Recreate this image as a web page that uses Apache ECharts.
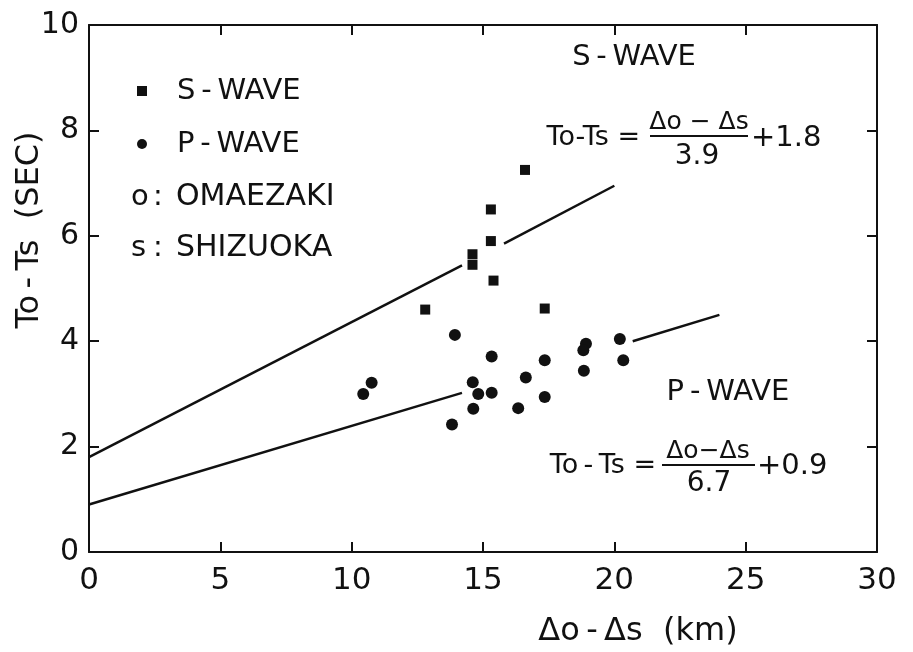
<!DOCTYPE html>
<html>
<head>
<meta charset="utf-8">
<script src="https://cdn.jsdelivr.net/npm/echarts@6/dist/echarts.min.js"></script>
<style>
html,body{margin:0;padding:0;background:#fff;}
#chart{width:913px;height:652px;}
</style>
</head>
<body>
<div id="chart"></div>
<script>
// ---- data ----
const xTicks = [0, 5, 10, 15, 20, 25, 30];
const yTicks = [0, 2, 4, 6, 8, 10];

const sWaveX = [16.6, 15.3, 15.3, 14.6, 14.6, 15.4, 12.8, 17.35];
const sWaveY = [7.25, 6.5, 5.9, 5.65, 5.45, 5.15, 4.6, 4.62];

const pWaveX = [13.93, 15.33, 17.35, 18.92, 18.82, 20.21, 20.34, 18.84, 16.63, 10.76, 10.44, 14.61, 14.82, 15.33, 17.35, 14.63, 16.34, 13.82];
const pWaveY = [4.12, 3.71, 3.64, 3.95, 3.83, 4.04, 3.64, 3.44, 3.31, 3.21, 3.00, 3.22, 3.00, 3.02, 2.94, 2.72, 2.73, 2.42];

// fitted lines (drawn in two pieces each, as in the figure)
const sFitSeg1X = [0, 14.2],  sFitSeg1Y = [1.8, 5.44];
const sFitSeg2X = [15.8, 20.0], sFitSeg2Y = [5.85, 6.95];
const pFitSeg1X = [0, 14.2],  pFitSeg1Y = [0.9, 3.02];
const pFitSeg2X = [20.7, 24.0], pFitSeg2Y = [4.0, 4.5];

const zip = (xs, ys) => xs.map((x, i) => [x, ys[i]]);

const FONT = 'DejaVu Sans';
const INK = '#111';
const TS = '\u2009';
const f = (px) => px + 'px "' + FONT + '"';

const chart = echarts.init(document.getElementById('chart'), null, {renderer: 'canvas'});

const axisLineStyle = {color: INK, width: 2};
const lineSeries = (xs, ys) => ({
  type: 'line', data: zip(xs, ys), symbol: 'none', silent: true,
  lineStyle: {color: INK, width: 2.5}, xAxisIndex: 0, yAxisIndex: 0, z: 3
});

const option = {
  backgroundColor: '#fff',
  animation: false,
  grid: {left: 89, right: 36, top: 25, bottom: 100},
  legend: {
    orient: 'vertical', left: 132, top: 71,
    itemWidth: 10, itemHeight: 10, itemGap: 23,
    data: [{name: 'S-WAVE', icon: 'rect'}, {name: 'P-WAVE', icon: 'circle'}],
    formatter: (n) => n.replace('-', TS + '-' + TS),
    textStyle: {fontFamily: FONT, fontSize: 29, color: INK, lineHeight: 30, padding: [0, 0, 0, 25]}
  },
  xAxis: [{
    type: 'value', min: xTicks[0], max: xTicks[xTicks.length - 1], interval: 5,
    axisLine: {show: true, onZero: false, lineStyle: axisLineStyle},
    axisTick: {show: true, inside: true, length: 10, lineStyle: {color: INK, width: 2}},
    axisLabel: {fontFamily: FONT, fontSize: 31, color: INK, margin: 13},
    splitLine: {show: false}
  }, {
    type: 'value', position: 'top', min: xTicks[0], max: xTicks[xTicks.length - 1], interval: 5,
    axisLine: {show: true, onZero: false, lineStyle: axisLineStyle},
    axisTick: {show: true, inside: true, length: 10, lineStyle: {color: INK, width: 2}},
    axisLabel: {show: false}, splitLine: {show: false}
  }],
  yAxis: [{
    type: 'value', min: yTicks[0], max: yTicks[yTicks.length - 1], interval: 2,
    axisLine: {show: true, onZero: false, lineStyle: axisLineStyle},
    axisTick: {show: true, inside: true, length: 10, lineStyle: {color: INK, width: 2}},
    axisLabel: {fontFamily: FONT, fontSize: 30, color: INK, margin: 10},
    splitLine: {show: false}
  }, {
    type: 'value', position: 'right', min: yTicks[0], max: yTicks[yTicks.length - 1], interval: 2,
    axisLine: {show: true, onZero: false, lineStyle: axisLineStyle},
    axisTick: {show: true, inside: true, length: 10, lineStyle: {color: INK, width: 2}},
    axisLabel: {show: false}, splitLine: {show: false}
  }],
  series: [
    {name: 'S-WAVE', type: 'scatter', data: zip(sWaveX, sWaveY), symbol: 'rect', symbolSize: 10,
      itemStyle: {color: INK, opacity: 1}, z: 4},
    {name: 'P-WAVE', type: 'scatter', data: zip(pWaveX, pWaveY), symbol: 'circle', symbolSize: 12,
      itemStyle: {color: INK, opacity: 1}, z: 4},
    lineSeries(sFitSeg1X, sFitSeg1Y),
    lineSeries(sFitSeg2X, sFitSeg2Y),
    lineSeries(pFitSeg1X, pFitSeg1Y),
    lineSeries(pFitSeg2X, pFitSeg2Y)
  ],
  graphic: [
    // remaining legend rows
    {type: 'text', x: 131, y: 197, style: {text: 'o', font: f(29), fill: INK, verticalAlign: 'middle'}},
    {type: 'text', x: 153, y: 197, style: {text: ':', font: f(29), fill: INK, verticalAlign: 'middle'}},
    {type: 'text', x: 176, y: 197, style: {text: 'OMAEZAKI', font: f(30), fill: INK, verticalAlign: 'middle'}},
    {type: 'text', x: 131, y: 248, style: {text: 's', font: f(29), fill: INK, verticalAlign: 'middle'}},
    {type: 'text', x: 153, y: 248, style: {text: ':', font: f(29), fill: INK, verticalAlign: 'middle'}},
    {type: 'text', x: 176, y: 248, style: {text: 'SHIZUOKA', font: f(30), fill: INK, verticalAlign: 'middle'}},
    // axis titles
    {type: 'text', x: 30, y: 230, rotation: Math.PI / 2,
      style: {text: 'To' + TS + '-' + TS + 'Ts  (SEC)', font: f(32), fill: INK, align: 'center', verticalAlign: 'middle'}},
    {type: 'text', x: 638, y: 632,
      style: {text: 'Δo' + TS + '-' + TS + 'Δs  (km)', font: f(32), fill: INK, align: 'center', verticalAlign: 'middle'}},
    // S-wave annotation
    {type: 'text', x: 634, y: 57,
      style: {text: 'S' + TS + '-' + TS + 'WAVE', font: f(29), fill: INK, align: 'center', verticalAlign: 'middle'}},
    {type: 'text', x: 640, y: 138,
      style: {text: 'To-Ts =', font: f(27), fill: INK, align: 'right', verticalAlign: 'middle'}},
    {type: 'text', x: 699, y: 122,
      style: {text: 'Δo − Δs', font: f(25), fill: INK, align: 'center', verticalAlign: 'middle'}},
    {type: 'line', shape: {x1: 650, y1: 136, x2: 748, y2: 136}, style: {stroke: INK, lineWidth: 2}},
    {type: 'text', x: 697, y: 157,
      style: {text: '3.9', font: f(28), fill: INK, align: 'center', verticalAlign: 'middle'}},
    {type: 'text', x: 751, y: 138,
      style: {text: '+1.8', font: f(29), fill: INK, align: 'left', verticalAlign: 'middle'}},
    // P-wave annotation
    {type: 'text', x: 728, y: 392,
      style: {text: 'P' + TS + '-' + TS + 'WAVE', font: f(29), fill: INK, align: 'center', verticalAlign: 'middle'}},
    {type: 'text', x: 656, y: 466,
      style: {text: 'To' + TS + '-' + TS + 'Ts =', font: f(27), fill: INK, align: 'right', verticalAlign: 'middle'}},
    {type: 'text', x: 708, y: 451,
      style: {text: 'Δo−Δs', font: f(25), fill: INK, align: 'center', verticalAlign: 'middle'}},
    {type: 'line', shape: {x1: 662, y1: 465, x2: 755, y2: 465}, style: {stroke: INK, lineWidth: 2}},
    {type: 'text', x: 709, y: 484,
      style: {text: '6.7', font: f(28), fill: INK, align: 'center', verticalAlign: 'middle'}},
    {type: 'text', x: 757, y: 466,
      style: {text: '+0.9', font: f(29), fill: INK, align: 'left', verticalAlign: 'middle'}}
  ]
};

chart.setOption(option);
</script>
</body>
</html>
